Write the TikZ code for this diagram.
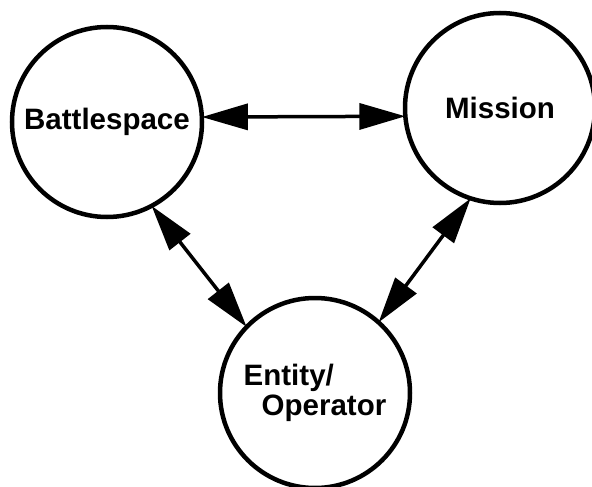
\documentclass[tikz,border=0pt]{standalone}
\usepackage{fontspec}
\setmainfont{Liberation Sans}
\usetikzlibrary{arrows.meta}
\begin{document}
\begin{tikzpicture}[x=1pt,y=-1pt,
  topic/.style={circle,draw,line width=4.5pt,minimum size=190pt,inner sep=0pt,outer sep=0pt,
    font=\bfseries\fontsize{29.5}{30}\selectfont,align=left},
  link/.style={line width=3.5pt,{Triangle[length=46pt,width=26pt]}-{Triangle[length=46pt,width=26pt]}}]
  \useasboundingbox (0,0) rectangle (592,487);
  % the three topics
  \node[topic] (bs) at (107,122) {Battlespace};
  \node[topic] (ms) at (500,108) {Mission};
  \node[topic] (en) at (315,393) {Entity/\\\hspace*{18pt}Operator};
  % two-way links between them
  \draw[link] (bs.3) -- (ms.185.4);
  \draw[link] (bs.-62.4) -- (en.136.7);
  \draw[link] (ms.-108.8) -- (en.48.3);
\end{tikzpicture}
\end{document}
